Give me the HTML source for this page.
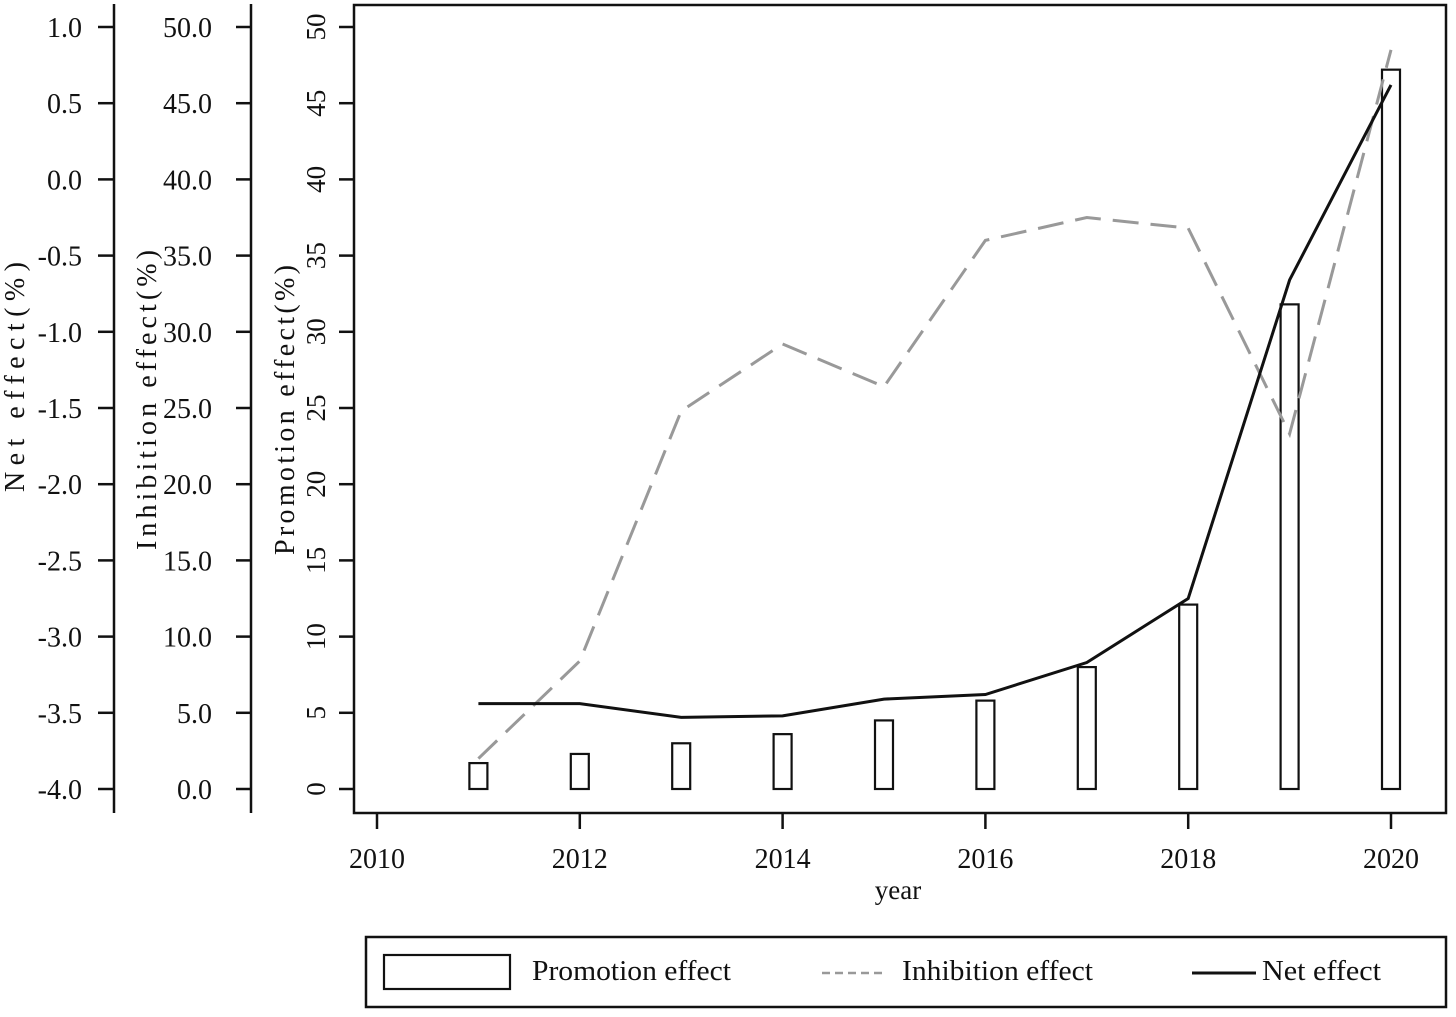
<!DOCTYPE html>
<html><head><meta charset="utf-8"><style>
body{margin:0;background:#fff}
svg text{font-family:"Liberation Serif",serif;fill:#111}
</style></head><body>
<svg id="chart" width="1456" height="1012" xmlns="http://www.w3.org/2000/svg"></svg>
<script>
const years=[2011,2012,2013,2014,2015,2016,2017,2018,2019,2020];
const promotion=[1.7,2.3,3.0,3.6,4.5,5.8,8.0,12.1,31.8,47.2];
const inhibition=[2.0,8.4,24.8,29.2,26.4,36.0,37.5,36.8,23.3,48.5];
const net=[-3.44,-3.44,-3.53,-3.52,-3.41,-3.38,-3.17,-2.75,-0.66,0.62];
const xTicks=[2010,2012,2014,2016,2018,2020];
const promoTicks=[0,5,10,15,20,25,30,35,40,45,50];
const inhTicks=[0,5,10,15,20,25,30,35,40,45,50];
const netTicks=[-4,-3.5,-3,-2.5,-2,-1.5,-1,-0.5,0,0.5,1];

const svg=document.getElementById('chart');
const NS='http://www.w3.org/2000/svg';
function el(tag,attrs,parent){const e=document.createElementNS(NS,tag);for(const k in attrs)e.setAttribute(k,attrs[k]);(parent||svg).appendChild(e);return e;}
const x=v=>377+(v-2010)*101.4;
const yP=v=>789-v*15.24;
const yI=v=>789-v*15.24;
const yN=v=>789-(v+4)*152.4;
const Y0=5,Y1=813;

let b=el('rect',{x:354,y:Y0,width:1092,height:Y1-Y0,fill:'none',stroke:'#111','stroke-width':2.5});



let a1=el('line',{x1:114,y1:4,x2:114,y2:813,stroke:'#111','stroke-width':2.5});


let a2=el('line',{x1:251,y1:4,x2:251,y2:813,stroke:'#111','stroke-width':2.5});



netTicks.forEach(v=>{
  el('line',{x1:98,y1:yN(v),x2:114,y2:yN(v),stroke:'#111','stroke-width':2.5});
  const t=el('text',{x:82,y:yN(v)+10,'text-anchor':'end','font-size':28});
  t.textContent=v.toFixed(1);
  
  
});
inhTicks.forEach(v=>{
  el('line',{x1:236,y1:yI(v),x2:251,y2:yI(v),stroke:'#111','stroke-width':2.5});
  const t=el('text',{x:212,y:yI(v)+10,'text-anchor':'end','font-size':28});
  t.textContent=v.toFixed(1);
  
  
});
promoTicks.forEach(v=>{
  el('line',{x1:339,y1:yP(v),x2:354,y2:yP(v),stroke:'#111','stroke-width':2.5});
  const t=el('text',{x:0,y:0,'text-anchor':'middle','font-size':27,transform:`translate(325,${yP(v)}) rotate(-90)`});
  t.textContent=v;
  
  
});
xTicks.forEach(v=>{
  el('line',{x1:x(v),y1:Y1,x2:x(v),y2:829,stroke:'#111','stroke-width':2.5});
  const t=el('text',{x:x(v),y:868,'text-anchor':'middle','font-size':28});
  t.textContent=v;
  
  
});
function title(txt,cx,cy,len,name){const t=el('text',{x:0,y:0,'text-anchor':'middle','font-size':28,textLength:len,lengthAdjust:'spacing',transform:`translate(${cx},${cy}) rotate(-90)`});t.textContent=txt;}
title('Net effect(%)',24,377,230,'net-axis-title');
title('Inhibition effect(%)',156,400,300,'inhibition-axis-title');
title('Promotion effect(%)',294,410,290,'promotion-axis-title');
let xt=el('text',{x:898,y:899,'text-anchor':'middle','font-size':27});
xt.textContent='year';



years.forEach((yr,i)=>{
  const r=el('rect',{x:x(yr)-9,y:yP(promotion[i]),width:18,height:yP(0)-yP(promotion[i]),fill:'#fff',stroke:'#111','stroke-width':2.2});
  
  
});
let p1=el('polyline',{points:years.map((yr,i)=>x(yr)+','+yI(inhibition[i])).join(' '),fill:'none',stroke:'#999','stroke-width':3,'stroke-dasharray':'26,12'});


let p2=el('polyline',{points:years.map((yr,i)=>x(yr)+','+yN(net[i])).join(' '),fill:'none',stroke:'#111','stroke-width':3});



const lg=el('g',{});


el('rect',{x:366,y:937,width:1080,height:70,fill:'#fff',stroke:'#111','stroke-width':2.5},lg);
const e1=el('rect',{x:384,y:955,width:126,height:34,fill:'#fff',stroke:'#111','stroke-width':2.2},lg);


const t1=el('text',{x:532,y:980,'font-size':28,textLength:199,lengthAdjust:'spacingAndGlyphs'},lg);t1.textContent='Promotion effect';


const e2=el('line',{x1:822,y1:973,x2:884,y2:973,stroke:'#999','stroke-width':2.5,'stroke-dasharray':'8,5'},lg);


const t2=el('text',{x:902,y:980,'font-size':28,textLength:191,lengthAdjust:'spacingAndGlyphs'},lg);t2.textContent='Inhibition effect';


const e3=el('line',{x1:1192,y1:973,x2:1256,y2:973,stroke:'#111','stroke-width':3},lg);


const t3=el('text',{x:1262,y:980,'font-size':28,textLength:119,lengthAdjust:'spacingAndGlyphs'},lg);t3.textContent='Net effect';


</script>
</body></html>
